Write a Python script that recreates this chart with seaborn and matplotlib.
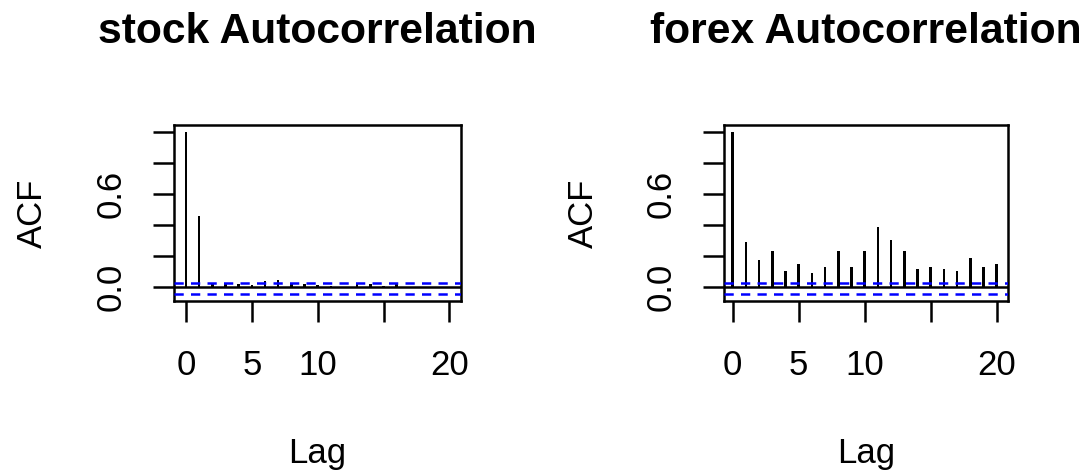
import matplotlib
matplotlib.use("Agg")
import matplotlib.pyplot as plt
import seaborn as sns
import pandas as pd

# ---- data ----
lags = list(range(21))
stock_acf = [1.0, 0.46, 0.02, 0.025, 0.02, 0.015, 0.04, 0.05, 0.025, 0.02,
             0.015, 0.01, 0.005, 0.02, 0.02, 0.01, 0.02, 0.005, 0.005, 0.005, 0.005]
forex_acf = [1.0, 0.29, 0.176, 0.234, 0.105, 0.148, 0.09, 0.133, 0.234, 0.133,
             0.234, 0.39, 0.305, 0.234, 0.12, 0.133, 0.12, 0.105, 0.19, 0.133, 0.148]
conf_upper = [0.028, 0.028]
conf_lower = [-0.042, -0.042]
titles = ["stock Autocorrelation", "forex Autocorrelation"]
x_ticks = [0, 5, 10, 15, 20]
x_ticklabels = ["0", "5", "10", "", "20"]
y_ticks = [0.0, 0.2, 0.4, 0.6, 0.8, 1.0]
y_ticklabels = ["0.0", "", "", "0.6", "", ""]

sns.set_theme(style="white")
plt.rcParams["font.family"] = ["Liberation Sans", "DejaVu Sans"]

W, H = 1090, 472
fig = plt.figure(figsize=(W / 100, H / 100), dpi=100)

panels = [
    (stock_acf, conf_upper[0], conf_lower[0], titles[0], 174.3, 461.0, (-0.89, 20.88)),
    (forex_acf, conf_upper[1], conf_lower[1], titles[1], 724.3, 1008.3, (-0.64, 20.88)),
]
top_px, bot_px = 125.0, 301.0
LW = 1.8

for acf, cu, cl, title, left_px, right_px, xlim in panels:
    ax = fig.add_axes([left_px / W, 1 - bot_px / H, (right_px - left_px) / W, (bot_px - top_px) / H])
    df = pd.DataFrame({"lag": lags, "acf": acf})
    sns.barplot(data=df, x="lag", y="acf", native_scale=True, width=0.19,
                color="black", linewidth=0, saturation=1, errorbar=None, ax=ax)
    ax.axhline(0, color="black", lw=LW, zorder=3)
    ax.axhline(cu, color="#0000FF", lw=LW, dashes=(3.7, 2.9), zorder=4)
    ax.axhline(cl, color="#0000FF", lw=LW, dashes=(3.7, 2.9), zorder=4)
    ax.set_xlim(*xlim)
    ax.set_ylim(-0.088, 1.047)
    ax.set_xticks(x_ticks)
    ax.set_xticklabels(x_ticklabels)
    ax.set_yticks(y_ticks)
    ax.set_yticklabels(y_ticklabels)
    for lab in ax.get_yticklabels():
        lab.set_rotation(90)
        lab.set_va("center")
    ax.tick_params(axis="x", length=14.9, width=LW, color="black", pad=20,
                   labelsize=25, labelcolor="black", bottom=True)
    ax.tick_params(axis="y", length=14.9, width=LW, color="black", pad=19,
                   labelsize=25, labelcolor="black", left=True)
    for sp in ax.spines.values():
        sp.set_color("black")
        sp.set_linewidth(LW)
    ax.set_xlabel("Lag", fontsize=25, color="black", va="top")
    ax.set_ylabel("ACF", fontsize=25, color="black")
    ax.xaxis.set_label_coords(0.5, -0.771)
    ax.yaxis.set_label_coords(-0.437, 0.5)
    ax.text(0.5, (bot_px - 42.7) / (bot_px - top_px), title, transform=ax.transAxes,
            ha="center", va="baseline", fontsize=30.7, fontweight="bold", color="black")
    ax.grid(False)

fig.savefig("out.png", dpi=100, facecolor="white")
